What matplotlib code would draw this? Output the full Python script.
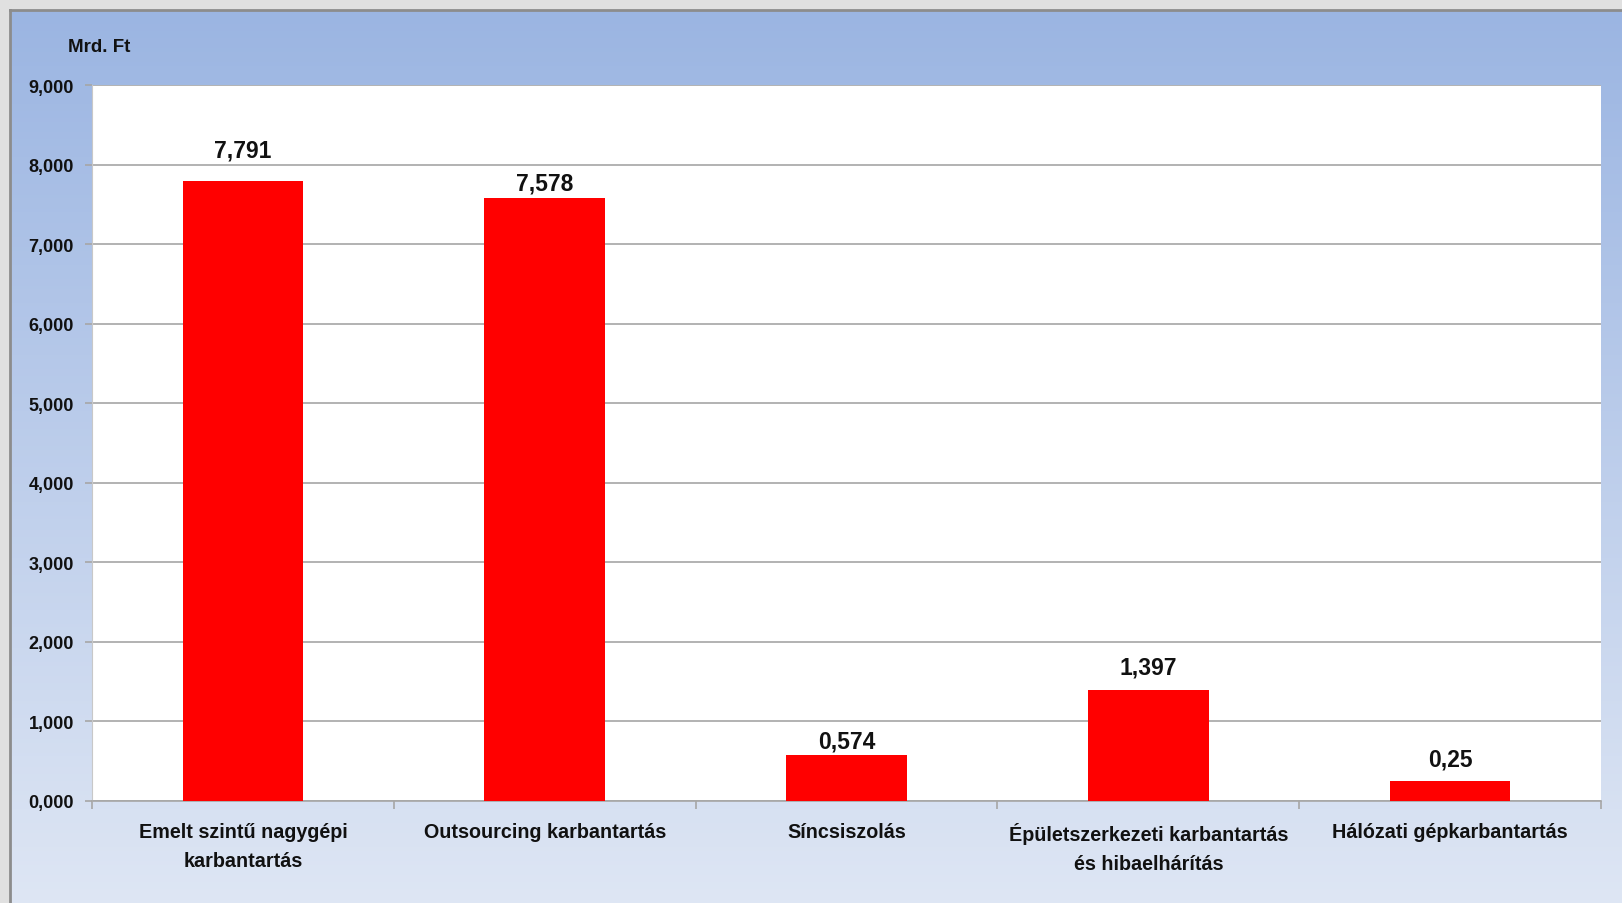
import matplotlib
matplotlib.use("Agg")
import matplotlib.pyplot as plt
import numpy as np
from matplotlib.ticker import FuncFormatter, FixedLocator

plt.rcParams['font.family'] = ['Liberation Sans', 'DejaVu Sans']
plt.rcParams['font.weight'] = 'bold'

# data (Mrd. Ft)
categories = ["Emelt szintű nagygépi\nkarbantartás", "Outsourcing karbantartás",
              "Síncsiszolás", "Épületszerkezeti karbantartás\nés hibaelhárítás",
              "Hálózati gépkarbantartás"]
values = [7.791, 7.578, 0.574, 1.397, 0.25]
value_labels = ["7,791", "7,578", "0,574", "1,397", "0,25"]
yticks = [0, 1, 2, 3, 4, 5, 6, 7, 8, 9]

# label gap above bar top (points), as placed in the original
label_gap = [18, 6.5, 6, 11.5, 11]

W, H = 1622, 904
fig = plt.figure(figsize=(W / 100, H / 100), dpi=100, facecolor="#E0E0E0")

# gradient background panel
bg = fig.add_axes([10 / W, 0, 1 - 10 / W, (H - 11) / H], zorder=-1)
top = np.array([155, 181, 226]) / 255
bot = np.array([222, 230, 244]) / 255
t = np.linspace(0, 1, 256)[:, None]
grad = top[None, :] * (1 - t) + bot[None, :] * t
bg.imshow(grad[:, None, :], aspect="auto", extent=(0, 1, 0, 1))
bg.set_xticks([])
bg.set_yticks([])
for s in ["right", "bottom"]:
    bg.spines[s].set_visible(False)
for s in ["left", "top"]:
    bg.spines[s].set_color("#8C8C8C")
    bg.spines[s].set_linewidth(2)

# plot area
ax = fig.add_axes([92 / W, (H - 802) / H, (1601 - 92) / W, (802 - 86) / H])
ax.set_facecolor("white")
x = np.arange(len(categories))
ax.bar(x, values, width=0.4, color="#FF0000", zorder=3)

for xi, v, lab, g in zip(x, values, value_labels, label_gap):
    ax.annotate(lab, (xi, v), xytext=(0, g), textcoords="offset points",
                ha="center", va="baseline", fontsize=16.5, fontweight="bold", color="#111111")

ax.set_xlim(-0.5, len(categories) - 0.5)
ax.set_ylim(0, 9)
ax.yaxis.set_major_locator(FixedLocator(yticks))
ax.yaxis.set_major_formatter(FuncFormatter(lambda v, p: f"{v:.3f}".replace(".", ",")))
ax.grid(axis="y", color="#A6A6A6", linewidth=1.2, zorder=0)
ax.set_axisbelow(True)

ax.set_xticks(x)
ax.set_xticklabels(categories, fontsize=14.2, fontweight="bold", linespacing=1.65,
                   color="#111111")
ax.set_xticks(np.arange(-0.5, len(categories)), minor=True)
ax.tick_params(axis="x", which="major", length=0, pad=15)
ax.tick_params(axis="x", which="minor", length=6, color="#A6A6A6", width=1.2, direction="out")
ax.tick_params(axis="y", length=5, color="#A6A6A6", width=1.2, pad=8, labelsize=13,
               labelcolor="#111111")
for lab in ax.get_yticklabels():
    lab.set_fontweight("bold")

for s in ["top", "right"]:
    ax.spines[s].set_visible(False)
ax.spines["left"].set_color("#C8C8C8")
ax.spines["bottom"].set_color("#A6A6A6")
ax.spines["bottom"].set_linewidth(1.2)

fig.text(68 / W, 1 - 48 / H, "Mrd. Ft", fontsize=13.5, fontweight="bold", va="center",
         ha="left", color="#111111")

plt.savefig("out.png", dpi=100, facecolor=fig.get_facecolor())
